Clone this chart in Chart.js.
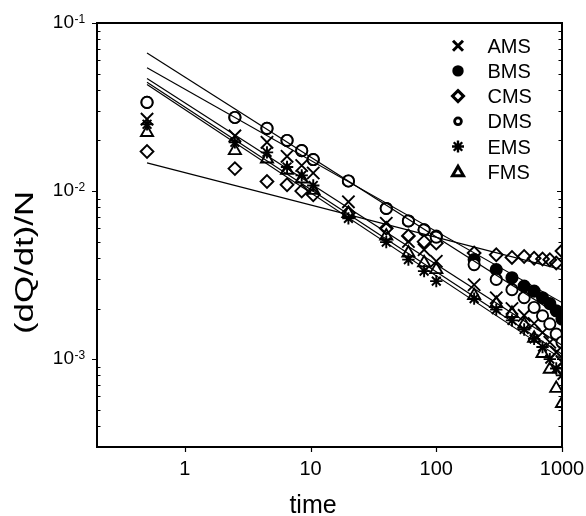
<!DOCTYPE html>
<html>
<head>
<meta charset="utf-8">
<script src="https://cdn.jsdelivr.net/npm/chart.js@4/dist/chart.umd.min.js"></script>
<style>
	body { margin: 0; background: #fff; }
	#wrap { width: 586px; height: 516px; }
</style>
</head>
<body>
<div id="wrap"><canvas id="chart" width="586" height="516"></canvas></div>
<script>
const times = [0.5, 2.5, 4.5, 6.5, 8.5, 10.5, 20, 40, 60, 80, 100, 200, 300, 400, 500, 600, 700, 800, 900, 1000];

const ams_values = [0.0268, 0.0213, 0.0195, 0.0161, 0.0142, 0.0128, 0.00863, 0.00643, 0.00501, 0.00448, 0.00382,
	0.00277, 0.00232, 0.00200, 0.00182, 0.00163, 0.00144, 0.00126, 0.00110, 0.00096];
const bms_values = [0.0337, 0.0274, 0.0236, 0.0200, 0.0174, 0.0154, 0.01148, 0.00788, 0.00664, 0.00588, 0.00540,
	0.00391, 0.00341, 0.00305, 0.00272, 0.00254, 0.00232, 0.00214, 0.00194, 0.00173];
const cms_values = [0.0172, 0.0136, 0.0114, 0.0109, 0.0100, 0.0095, 0.0074, 0.0060, 0.0054, 0.0050, 0.0049,
	0.00428, 0.00418, 0.00403, 0.00408, 0.00398, 0.00394, 0.00390, 0.00373, 0.00440];
const dms_values = [0.0337, 0.0274, 0.0236, 0.0200, 0.0174, 0.0154, 0.01148, 0.00788, 0.00664, 0.00588, 0.00532,
	0.00365, 0.00298, 0.00259, 0.00232, 0.00203, 0.00181, 0.00162, 0.00141, 0.00126];
const ems_values = [0.0250, 0.0195, 0.0170, 0.0139, 0.0124, 0.0108, 0.00688, 0.00497, 0.00391, 0.00334, 0.00291,
	0.00229, 0.00197, 0.00170, 0.00150, 0.00132, 0.00118, 0.00100, 0.00088, 0.00080];
const fms_values = [0.0223, 0.0174, 0.0155, 0.0133, 0.0118, 0.0101, 0.00736, 0.0054, 0.00428, 0.00374, 0.00341,
	0.00239, 0.00214, 0.00187, 0.00161, 0.00133, 0.00108, 0.00087, 0.00067, 0.000544];

// power-law fit lines, value at each end of the fitted range
const fit_times = [0.5, 1000];
const ams_fit = [0.0468, 0.00121];
const bms_fit = [0.0541, 0.00217];
const cms_fit = [0.0147, 0.00341];
const dms_fit = [0.0662, 0.00178];
const ems_fit = [0.0431, 0.00100];
const fms_fit = [0.0444, 0.00107];

const series_names = ['AMS', 'BMS', 'CMS', 'DMS', 'EMS', 'FMS'];
const x_tick_values = [1, 10, 100, 1000];
const y_tick_exponents = [-1, -2, -3];

const FONT = '"Liberation Sans", Arial, sans-serif';

function toPoints(xs, ys) {
	return xs.map((x, i) => ({ x: x, y: ys[i] }));
}

function markerSet(label, values, style, radius, fill, order) {
	return {
		type: 'scatter',
		label: label,
		data: toPoints(times, values),
		pointStyle: style,
		pointRadius: radius,
		pointHoverRadius: radius,
		pointBorderColor: '#000',
		pointBackgroundColor: fill,
		pointBorderWidth: 1.9,
		showLine: false,
		clip: 0,
		order: order,
	};
}

function fitSet(label, values) {
	return {
		type: 'line',
		label: label + ' fit',
		data: toPoints(fit_times, values),
		borderColor: '#000',
		borderWidth: 1.2,
		pointRadius: 0,
		fill: false,
		clip: 0,
		order: 0,
	};
}

const datasets = [
	markerSet('AMS', ams_values, 'crossRot', 8.7, 'rgba(0,0,0,0)', 2),
	markerSet('BMS', bms_values, 'circle', 5.6, '#000', 3),
	markerSet('CMS', cms_values, 'rectRot', 6.4, 'rgba(0,0,0,0)', 2),
	markerSet('DMS', dms_values, 'circle', 5.6, '#fff', 1),
	markerSet('EMS', ems_values, 'star', 6.2, 'rgba(0,0,0,0)', 2),
	markerSet('FMS', fms_values, 'triangle', 7, 'rgba(0,0,0,0)', 2),
	fitSet('AMS', ams_fit),
	fitSet('BMS', bms_fit),
	fitSet('CMS', cms_fit),
	fitSet('DMS', dms_fit),
	fitSet('EMS', ems_fit),
	fitSet('FMS', fms_fit),
];

// legend symbols, drawn a little heavier than the plot markers
function drawLegendSymbol(ctx, name, x, y) {
	ctx.save();
	ctx.strokeStyle = '#000';
	ctx.fillStyle = '#000';
	ctx.lineCap = 'butt';
	ctx.beginPath();
	if (name === 'AMS') {
		ctx.lineWidth = 3;
		ctx.moveTo(x - 5, y - 5); ctx.lineTo(x + 5, y + 5);
		ctx.moveTo(x + 5, y - 5); ctx.lineTo(x - 5, y + 5);
		ctx.stroke();
	} else if (name === 'BMS') {
		ctx.arc(x, y, 5.7, 0, Math.PI * 2);
		ctx.fill();
	} else if (name === 'CMS') {
		ctx.lineWidth = 3;
		ctx.moveTo(x, y - 5.5); ctx.lineTo(x + 5.5, y);
		ctx.lineTo(x, y + 5.5); ctx.lineTo(x - 5.5, y);
		ctx.closePath();
		ctx.stroke();
	} else if (name === 'DMS') {
		ctx.lineWidth = 2.8;
		ctx.arc(x, y, 3.4, 0, Math.PI * 2);
		ctx.stroke();
	} else if (name === 'EMS') {
		ctx.lineWidth = 2.4;
		for (let k = 0; k < 4; k++) {
			const a = k * Math.PI / 4;
			ctx.moveTo(x - Math.cos(a) * 6, y - Math.sin(a) * 6);
			ctx.lineTo(x + Math.cos(a) * 6, y + Math.sin(a) * 6);
		}
		ctx.stroke();
	} else if (name === 'FMS') {
		ctx.lineWidth = 3;
		ctx.lineJoin = 'miter';
		ctx.moveTo(x, y - 5.5); ctx.lineTo(x + 5.5, y + 4);
		ctx.lineTo(x - 5.5, y + 4);
		ctx.closePath();
		ctx.stroke();
	}
	ctx.restore();
}

const framePlugin = {
	id: 'frame',
	afterDraw(chart) {
		const ctx = chart.ctx;
		const area = chart.chartArea;
		const xs = chart.scales.x;
		const ys = chart.scales.y;
		ctx.save();
		ctx.strokeStyle = '#000';
		ctx.fillStyle = '#000';

		// box
		ctx.lineWidth = 2;
		ctx.strokeRect(area.left, area.top, area.right - area.left, area.bottom - area.top);

		// y ticks: majors out, minors in, mirrored on right side
		ctx.lineWidth = 1.2;
		ctx.beginPath();
		for (let e = -4; e <= -1; e++) {
			for (let m = 1; m <= 9; m++) {
				const v = m * Math.pow(10, e);
				if (v < ys.min * 0.999 || v > ys.max * 1.001) continue;
				const py = Math.round(ys.getPixelForValue(v)) + 0.5;
				if (m === 1) {
					ctx.moveTo(area.left - 5, py); ctx.lineTo(area.left, py);
					ctx.moveTo(area.right - 5, py); ctx.lineTo(area.right, py);
				} else {
					ctx.moveTo(area.left, py); ctx.lineTo(area.left + 3.5, py);
					ctx.moveTo(area.right - 3.5, py); ctx.lineTo(area.right, py);
				}
			}
		}
		// x ticks
		x_tick_values.forEach((v) => {
			const px = Math.round(xs.getPixelForValue(v)) + 0.5;
			ctx.moveTo(px, area.bottom); ctx.lineTo(px, area.bottom + 5);
		});
		ctx.stroke();

		// x tick labels
		ctx.font = '20px ' + FONT;
		ctx.textAlign = 'center';
		ctx.textBaseline = 'alphabetic';
		x_tick_values.forEach((v) => {
			ctx.fillText(String(v), xs.getPixelForValue(v), 475);
		});

		// y tick labels as 10 with a superscript exponent
		y_tick_exponents.forEach((e) => {
			const py = ys.getPixelForValue(Math.pow(10, e));
			ctx.font = '19px ' + FONT;
			ctx.textAlign = 'right';
			ctx.fillText('10', 74, py + 4.5);
			ctx.font = '12px ' + FONT;
			ctx.textAlign = 'left';
			ctx.fillText('-' + String(-e), 74.5, py - 0.5);
		});

		// axis titles
		ctx.font = '25px ' + FONT;
		ctx.textAlign = 'center';
		ctx.fillText('time', 313, 513);

		ctx.save();
		ctx.translate(33, 262.5);
		ctx.rotate(-Math.PI / 2);
		ctx.font = '25px ' + FONT;
		const title = '(dQ/dt)/N';
		const stretch = 143 / ctx.measureText(title).width;
		ctx.scale(stretch, 1);
		ctx.textAlign = 'center';
		ctx.fillText(title, 0, 0);
		ctx.restore();

		// legend inside the plot, top right
		ctx.font = '20px ' + FONT;
		ctx.textAlign = 'left';
		series_names.forEach((name, i) => {
			const cy = 45.7 + i * 25.2;
			drawLegendSymbol(ctx, name, 458, cy);
			ctx.fillText(name, 487.5, cy + 7);
		});

		ctx.restore();
	},
};

Chart.defaults.font.family = FONT;

var chart_ctx = document.getElementById('chart').getContext('2d');
var chart = new Chart(chart_ctx, {
	type: 'scatter',
	data: { datasets: datasets },
	options: {
		responsive: false,
		animation: false,
		devicePixelRatio: 1,
		layout: {
			padding: { left: 97, top: 23, right: 24, bottom: 69 },
		},
		scales: {
			x: {
				type: 'logarithmic',
				min: 0.2,
				max: 1000,
				display: false,
			},
			y: {
				type: 'logarithmic',
				min: Math.pow(10, -3.5),
				max: 0.1,
				display: false,
			},
		},
		plugins: {
			legend: { display: false },
			tooltip: { enabled: false },
		},
	},
	plugins: [framePlugin],
});
</script>
</body>
</html>
